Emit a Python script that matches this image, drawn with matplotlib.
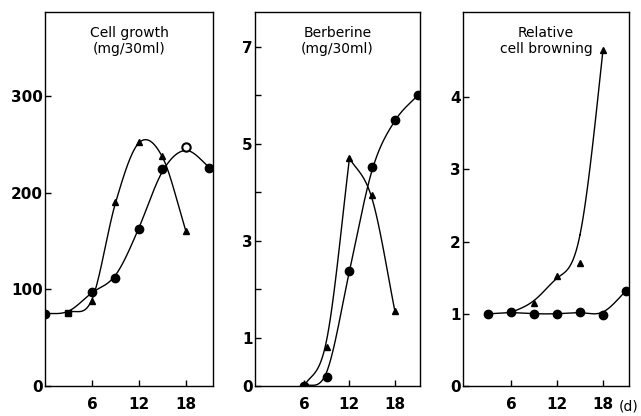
import numpy as np
import matplotlib.pyplot as plt

# Cell growth (mg/30ml)
growth_days_c = [0, 3, 6, 9, 12, 15, 18, 21]
growth_c = [75, 76, 97, 112, 163, 225, 247, 226]
growth_days_t = [3, 6, 9, 12, 15, 18]
growth_t = [76, 88, 190, 253, 238, 160]

# Berberine (mg/30ml)
berb_days_c = [6, 9, 12, 15, 18, 21]
berb_c = [0, 0.19, 2.37, 4.52, 5.5, 6.0]
berb_days_t = [6, 9, 12, 15, 18]
berb_t = [0, 0.8, 4.7, 3.94, 1.54]

# Relative cell browning
brown_days_c = [3, 6, 9, 12, 15, 18, 21]
brown_c = [1.0, 1.02, 1.0, 1.0, 1.02, 0.99, 1.32]
brown_days_t = [6, 9, 12, 15, 18]
brown_t = [1.02, 1.15, 1.52, 1.7, 4.65]

x_ticks = [6, 12, 18]


def smooth(x, y, a=0.35, n=30):
    # hand-drawn look: mix of catmull-rom (through points) and b-spline (smoothed)
    p = np.column_stack([np.asarray(x, float), np.asarray(y, float)])
    p = np.vstack([2 * p[0] - p[1], p, 2 * p[-1] - p[-2]])
    t = np.linspace(0, 1, n)[:, None]
    out = []
    for i in range(1, len(p) - 2):
        p0, p1, p2, p3 = p[i - 1], p[i], p[i + 1], p[i + 2]
        cr = 0.5 * (2 * p1 + (p2 - p0) * t + (2 * p0 - 5 * p1 + 4 * p2 - p3) * t**2
                    + (-p0 + 3 * p1 - 3 * p2 + p3) * t**3)
        bs = ((1 - t)**3 * p0 + (3 * t**3 - 6 * t**2 + 4) * p1
              + (-3 * t**3 + 3 * t**2 + 3 * t + 1) * p2 + t**3 * p3) / 6
        out.append((1 - a) * cr + a * bs)
    out = np.vstack(out)
    return out[:, 0], out[:, 1]


fig = plt.figure(figsize=(6.41, 4.16), dpi=100)
fig.patch.set_facecolor('white')

bottom, height = 0.072, 0.899
ax1 = fig.add_axes([0.0702, bottom, 0.262, height])
ax2 = fig.add_axes([0.3978, bottom, 0.2574, height])
ax3 = fig.add_axes([0.7223, bottom, 0.259, height])

tick_font = dict(family='DejaVu Sans', weight='bold', size=11)


def line(ax, d, v, a=0.35):
    sx, sy = smooth(d, v, a)
    ax.plot(sx, sy, color='black', lw=1.0)


# cell growth
line(ax1, growth_days_c, growth_c, 0.45)
line(ax1, growth_days_t, growth_t, 0.1)
circ_idx = [i for i in range(len(growth_days_c)) if i not in (1, 6)]
ax1.plot([growth_days_c[i] for i in circ_idx], [growth_c[i] for i in circ_idx],
         'o', color='black', ms=6, zorder=3)
ax1.plot(growth_days_c[1], growth_c[1], 's', color='black', ms=5, zorder=4)
ax1.plot(growth_days_c[6], growth_c[6], 'o', mfc='white', mec='black', mew=1.5, ms=6, zorder=4)
ax1.plot(growth_days_t[1:], growth_t[1:], '^', color='black', ms=5, zorder=3)

# berberine, triangle line has a sharp peak at day 12
line(ax2, berb_days_c, berb_c, 0.3)
line(ax2, berb_days_t[:3], berb_t[:3], 0.3)
line(ax2, berb_days_t[2:], berb_t[2:], 0.3)
ax2.plot(berb_days_c, berb_c, 'o', color='black', ms=6, zorder=3)
ax2.plot(berb_days_t[1:], berb_t[1:], '^', color='black', ms=5, zorder=3)

# browning
line(ax3, brown_days_c, brown_c, 0.6)
line(ax3, brown_days_t, brown_t, 0.85)
ax3.plot(brown_days_c, brown_c, 'o', color='black', ms=6, zorder=3)
ax3.plot(brown_days_t[1:], brown_t[1:], '^', color='black', ms=5, zorder=3)

ax1.set_xlim(0, 21.45)
ax1.set_ylim(0, 387)
ax1.set_yticks([0, 100, 200, 300])

ax2.set_xlim(-0.45, 21.3)
ax2.set_ylim(0, 7.72)
ax2.set_yticks(range(8))
ax2.set_yticklabels(['0', '1', '', '3', '', '5', '', '7'])

ax3.set_xlim(-0.26, 21.4)
ax3.set_ylim(0, 5.18)
ax3.set_yticks([0, 1, 2, 3, 4])

titles = ['Cell growth\n(mg/30ml)', 'Berberine\n(mg/30ml)', 'Relative\ncell browning']
for ax, title in zip([ax1, ax2, ax3], titles):
    ax.set_xticks(x_ticks)
    ax.tick_params(direction='in', length=4, width=1, color='black')
    ax.tick_params(axis='y', pad=1.5)
    ax.tick_params(axis='x', pad=8)
    for lab in ax.get_xticklabels() + ax.get_yticklabels():
        lab.set_fontproperties(tick_font)
    for sp in ax.spines.values():
        sp.set_linewidth(1.0)
    ax.text(0.5, 0.962, title, transform=ax.transAxes, ha='center', va='top',
            fontsize=10, family='DejaVu Sans', linespacing=1.2)

ax3.text(1.0, -0.055, '(d)', transform=ax3.transAxes, ha='center', va='center',
         fontsize=10, family='DejaVu Sans')

fig.savefig('out.png', dpi=100)
